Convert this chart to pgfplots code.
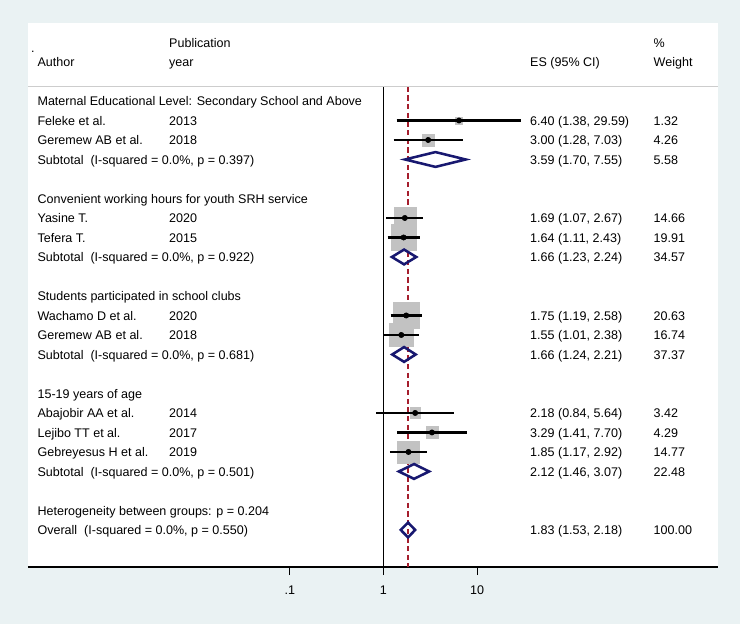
\documentclass[border=0pt]{standalone}
\usepackage{fontspec}
\setmainfont{Liberation Sans}
\usepackage{pgfplots}
\pgfplotsset{compat=1.18}
\usepackage{pgfplotstable}
\definecolor{bgblue}{RGB}{234,242,243}
\definecolor{dnavy}{RGB}{24,24,112}
\definecolor{dred}{RGB}{165,30,45}
\definecolor{boxgray}{RGB}{194,194,194}
\definecolor{sepgray}{RGB}{205,205,205}

% study-level estimates: row, ES, lower, upper, weight
\pgfplotstableread{
row es lo hi w
2 6.40 1.38 29.59 1.32
3 3.00 1.28 7.03 4.26
7 1.69 1.07 2.67 14.66
8 1.64 1.11 2.43 19.91
12 1.75 1.19 2.58 20.63
13 1.55 1.01 2.38 16.74
17 2.18 0.84 5.64 3.42
18 3.29 1.41 7.70 4.29
19 1.85 1.17 2.92 14.77
}\studies

\tikzset{txt/.style={anchor=base west, inner sep=0pt, font=\fontsize{9.4}{11}\selectfont, yshift=-3.45pt}}
\newcommand{\T}[3]{\node[txt] at ({rel axis cs:#1,0}|-{axis cs:1,#2}) {#3};}
\def\cA{0.0135}
\def\cY{0.2043}
\def\cE{0.7275}
\def\cW{0.9065}

\begin{document}
\begin{tikzpicture}
\fill[bgblue] (0,0) rectangle (555pt,468pt);
\fill[white] (21pt,42.75pt) rectangle (538.5pt,450.75pt);
\begin{axis}[
  at={(21pt,42.75pt)}, anchor=south west,
  scale only axis, width=517.5pt, height=408pt,
  xmode=log, xmin=1.61e-4, xmax=3715,
  ymin=-3, ymax=24.9, y dir=reverse,
  axis x line*=bottom, axis y line=none,
  x axis line style={black, line width=1pt},
  xtick={0.1,1,10}, xticklabels={.1,1,10}, xminorticks=false,
  tick align=outside, major tick length=6pt,
  xtick style={black, line width=1pt},
  xticklabel style={font=\fontsize{9.4}{11}\selectfont, yshift=-4.4pt},
  clip=false, clip marker paths=true,
]
% reference lines
\addplot[black, line width=1.3pt] coordinates {(1,0.27) (1,24.9)};
\addplot[dred, line width=1.1pt, dash pattern=on 4pt off 2.5pt] coordinates {(1.83,0.27) (1.83,24.9)};

% weight boxes
\addplot[scatter, only marks, mark=square*,
  scatter/use mapped color={draw=boxgray, fill=boxgray},
  visualization depends on={\thisrow{w} \as \wt},
  scatter/@pre marker code/.append style={/tikz/mark size={2.149*sqrt(\wt)}}]
  table[x=es, y=row, meta=w]{\studies};

% confidence intervals
\addplot[black, line width=1.9pt] coordinates {(1.38,2) (29.59,2)};
\addplot[black, line width=1.9pt] coordinates {(1.28,3) (7.03,3)};
\addplot[black, line width=1.9pt] coordinates {(1.07,7) (2.67,7)};
\addplot[black, line width=1.9pt] coordinates {(1.11,8) (2.43,8)};
\addplot[black, line width=1.9pt] coordinates {(1.19,12) (2.58,12)};
\addplot[black, line width=1.9pt] coordinates {(1.01,13) (2.38,13)};
\addplot[black, line width=1.9pt] coordinates {(0.84,17) (5.64,17)};
\addplot[black, line width=1.9pt] coordinates {(1.41,18) (7.70,18)};
\addplot[black, line width=1.9pt] coordinates {(1.17,19) (2.92,19)};

% point estimates
\addplot[only marks, mark=*, mark size=2pt, black] table[x=es, y=row]{\studies};

% pooled diamonds
\addplot[dnavy, line width=1.9pt, line join=miter] coordinates {(1.70,4) (3.59,3.62) (7.55,4) (3.59,4.38)} -- cycle;
\addplot[dnavy, line width=1.9pt, line join=miter] coordinates {(1.23,9) (1.66,8.62) (2.24,9) (1.66,9.38)} -- cycle;
\addplot[dnavy, line width=1.9pt, line join=miter] coordinates {(1.24,14) (1.66,13.62) (2.21,14) (1.66,14.38)} -- cycle;
\addplot[dnavy, line width=1.9pt, line join=miter] coordinates {(1.46,20) (2.12,19.62) (3.07,20) (2.12,20.38)} -- cycle;
\addplot[dnavy, line width=1.9pt, line join=miter] coordinates {(1.53,23) (1.83,22.62) (2.18,23) (1.83,23.38)} -- cycle;

% header separator
\draw[sepgray, line width=0.8pt] ({rel axis cs:0,0}|-{axis cs:1,0.27}) -- ({rel axis cs:1,0}|-{axis cs:1,0.27});

% header
\T{0.0043}{-1.7}{.}
\T{\cY}{-2}{Publication}
\T{\cW}{-2}{\%}
\T{\cA}{-1}{Author}
\T{\cY}{-1}{year}
\T{\cE}{-1}{ES (95\% CI)}
\T{\cW}{-1}{Weight}

% group 1
\T{\cA}{1}{Maternal Educational Level: Secondary School and Above}
\T{\cA}{2}{Feleke et al.}\T{\cY}{2}{2013}\T{\cE}{2}{6.40 (1.38, 29.59)}\T{\cW}{2}{1.32}
\T{\cA}{3}{Geremew AB et al.}\T{\cY}{3}{2018}\T{\cE}{3}{3.00 (1.28, 7.03)}\T{\cW}{3}{4.26}
\T{\cA}{4}{Subtotal\ \ (I-squared = 0.0\%, p = 0.397)}\T{\cE}{4}{3.59 (1.70, 7.55)}\T{\cW}{4}{5.58}

% group 2
\T{\cA}{6}{Convenient working hours for youth SRH service}
\T{\cA}{7}{Yasine T.}\T{\cY}{7}{2020}\T{\cE}{7}{1.69 (1.07, 2.67)}\T{\cW}{7}{14.66}
\T{\cA}{8}{Tefera T.}\T{\cY}{8}{2015}\T{\cE}{8}{1.64 (1.11, 2.43)}\T{\cW}{8}{19.91}
\T{\cA}{9}{Subtotal\ \ (I-squared = 0.0\%, p = 0.922)}\T{\cE}{9}{1.66 (1.23, 2.24)}\T{\cW}{9}{34.57}

% group 3
\T{\cA}{11}{Students participated in school clubs}
\T{\cA}{12}{Wachamo D et al.}\T{\cY}{12}{2020}\T{\cE}{12}{1.75 (1.19, 2.58)}\T{\cW}{12}{20.63}
\T{\cA}{13}{Geremew AB et al.}\T{\cY}{13}{2018}\T{\cE}{13}{1.55 (1.01, 2.38)}\T{\cW}{13}{16.74}
\T{\cA}{14}{Subtotal\ \ (I-squared = 0.0\%, p = 0.681)}\T{\cE}{14}{1.66 (1.24, 2.21)}\T{\cW}{14}{37.37}

% group 4
\T{\cA}{16}{15-19 years of age}
\T{\cA}{17}{Abajobir AA et al.}\T{\cY}{17}{2014}\T{\cE}{17}{2.18 (0.84, 5.64)}\T{\cW}{17}{3.42}
\T{\cA}{18}{Lejibo TT et al.}\T{\cY}{18}{2017}\T{\cE}{18}{3.29 (1.41, 7.70)}\T{\cW}{18}{4.29}
\T{\cA}{19}{Gebreyesus H et al.}\T{\cY}{19}{2019}\T{\cE}{19}{1.85 (1.17, 2.92)}\T{\cW}{19}{14.77}
\T{\cA}{20}{Subtotal\ \ (I-squared = 0.0\%, p = 0.501)}\T{\cE}{20}{2.12 (1.46, 3.07)}\T{\cW}{20}{22.48}

% overall
\T{\cA}{22}{Heterogeneity between groups: p = 0.204}
\T{\cA}{23}{Overall\ \ (I-squared = 0.0\%, p = 0.550)}\T{\cE}{23}{1.83 (1.53, 2.18)}\T{\cW}{23}{100.00}
\end{axis}
\end{tikzpicture}
\end{document}
